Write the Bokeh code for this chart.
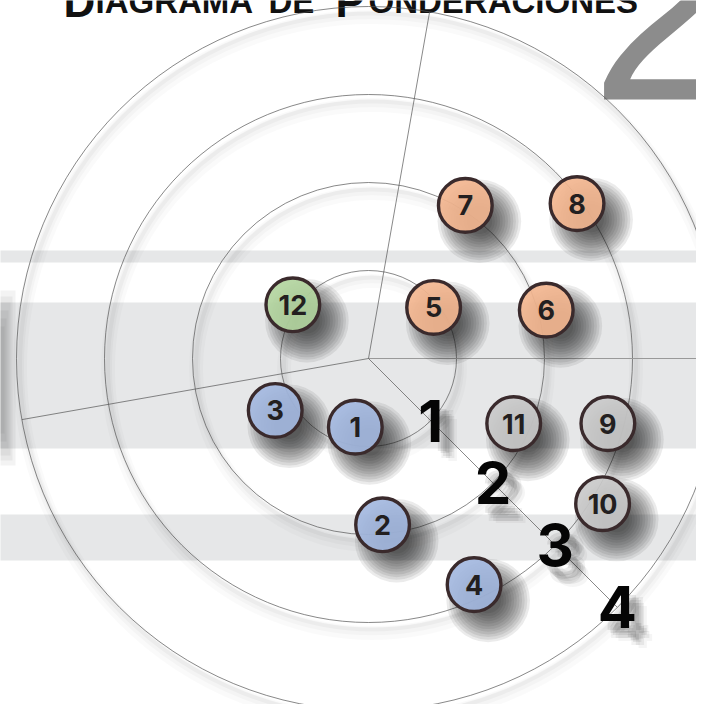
from bokeh.plotting import figure
from bokeh.models import Range1d, ColumnDataSource
from bokeh.core.properties import value
from bokeh.embed import file_html
from bokeh.resources import INLINE
import numpy as np

# ---------------- data ----------------
item_labels = ["1", "2", "3", "4", "5", "6", "7", "8", "9", "10", "11", "12"]
item_x = [-0.15, 0.16, -1.06, 1.20, 0.74, 2.02, 1.10, 2.37, 2.72, 2.66, 1.65, -0.86]
item_y = [-0.78, -1.89, -0.59, -2.57, 0.58, 0.55, 1.74, 1.76, -0.74, -1.65, -0.74, 0.61]
item_group = ["azul", "azul", "azul", "azul", "naranja", "naranja", "naranja", "naranja",
              "gris", "gris", "gris", "verde"]
group_colors = {"azul": "#a3b7de", "naranja": "#f2b58f", "gris": "#c9c9c9", "verde": "#b2d49e"}

ring_levels = [1, 2, 3, 4]
ring_labels = ["1", "2", "3", "4"]
ray_angles_deg = [0, 80, 190, -45]
label_angle_deg = -45

title_parts = ["D", "IAGRAMA", "DE", "P", "ONDERACIONES"]
title_big = [True, False, False, True, False]
big_number = "2"

# ---------------- figure ----------------
PX = 88.0  # pixels per ring unit
CX, CY = 368.0, 358.0


def ux(px):
    return (px - CX) / PX


def uy(py):
    return (CY - py) / PX


p = figure(width=696, height=704,
           x_range=Range1d(ux(0), ux(696)), y_range=Range1d(uy(704), uy(0)),
           output_backend="svg", toolbar_location=None, min_border=0)
p.axis.visible = False
p.grid.visible = False
p.outline_line_color = None
p.background_fill_color = "white"
p.border_fill_color = "white"

# background bands
band_top = [uy(250), uy(302), uy(514)]
band_bot = [uy(262), uy(448), uy(560)]
p.quad(left=-10, right=10, top=band_top, bottom=band_bot,
       fill_color="#e6e7e8", line_color=None)

# dark blurred shape on the left edge
for w, t, b in [(15, 290, 465), (12, 296, 460), (10, 302, 455), (8, 310, 448),
                (6, 318, 441), (4, 326, 433)]:
    p.quad(left=-10, right=ux(w), top=uy(t), bottom=uy(b), fill_color="#333333",
           fill_alpha=0.06, line_color=None)

# big grey "2"
p.text(x=[ux(590)], y=[uy(4)], text=[big_number], text_font=value("Liberation Sans"),
       text_font_size="270px", text_color="#8c8c8c", text_align="left",
       text_baseline="alphabetic")

# title (small caps, mostly cut off at the top)
title_x = [63, 95, 268, 335, 368]
for t, big, tx in zip(title_parts, title_big, title_x):
    p.text(x=[ux(tx)], y=[uy(1)], text=[t], text_font=value("Liberation Sans"),
           text_font_style="bold", text_font_size="44px" if big else "33px",
           text_color="#111111", text_align="left", text_baseline="alphabetic")

# soft ring shadows
for w, a, off in [(14, 0.02, 0.12), (8, 0.025, 0.10), (4, 0.03, 0.08)]:
    p.circle(x=[0.04] * 4, y=[-off] * 4, radius=ring_levels, fill_color=None,
             line_color="#000000", line_alpha=a, line_width=w)

# rings
p.circle(x=[0] * 4, y=[0] * 4, radius=ring_levels, fill_color=None,
         line_color="#555555", line_width=0.7)

# rays
rmax = max(ring_levels)
for ang in ray_angles_deg:
    t = np.deg2rad(ang)
    col = "#999999" if ang == 0 else "#555555"
    lw = 1.1 if ang == 0 else 0.7
    p.line(x=[0, rmax * np.cos(t)], y=[0, rmax * np.sin(t)], line_color=col, line_width=lw)

# ring labels with soft shadow
ta = np.deg2rad(label_angle_deg)
lx = [r * np.cos(ta) for r in ring_levels]
ly = [r * np.sin(ta) for r in ring_levels]
for dx, dy, a in [(0.14, -0.16, 0.07), (0.11, -0.13, 0.08), (0.08, -0.10, 0.08),
                  (0.17, -0.19, 0.06), (0.12, -0.19, 0.05), (0.16, -0.12, 0.05),
                  (0.20, -0.22, 0.04)]:
    p.text(x=[v + dx for v in lx], y=[v + dy for v in ly], text=ring_labels,
           text_font=value("Inter"), text_font_style="bold", text_font_size="58px",
           text_color="#000000", text_alpha=a, text_align="center", text_baseline="middle")
p.text(x=lx, y=ly, text=ring_labels, text_font=value("Inter"), text_font_style="bold",
       text_font_size="58px", text_color="#050505", text_align="center", text_baseline="middle")

# marker shadows (layered to imitate blur)
R = 0.305
sx = [v + 0.16 for v in item_x]
sy = [v - 0.18 for v in item_y]
for k in range(12):
    p.circle(x=sx, y=sy, radius=R + 0.17 - k * 0.03, fill_color="#1a1a1a",
             fill_alpha=0.085, line_color=None)

# markers
src = ColumnDataSource(dict(x=item_x, y=item_y, label=item_labels,
                            color=[group_colors[g] for g in item_group]))
p.circle(x="x", y="y", radius=R, fill_color="color", fill_alpha=0.92,
         line_color="#3a2a2c", line_width=3.4, source=src)
p.text(x="x", y="y", text="label", text_font=value("Inter"), text_font_style="bold",
       text_font_size="27px", text_color="#231f20", text_align="center",
       text_baseline="middle", source=src)

open("out.html", "w").write(file_html(p, INLINE))
